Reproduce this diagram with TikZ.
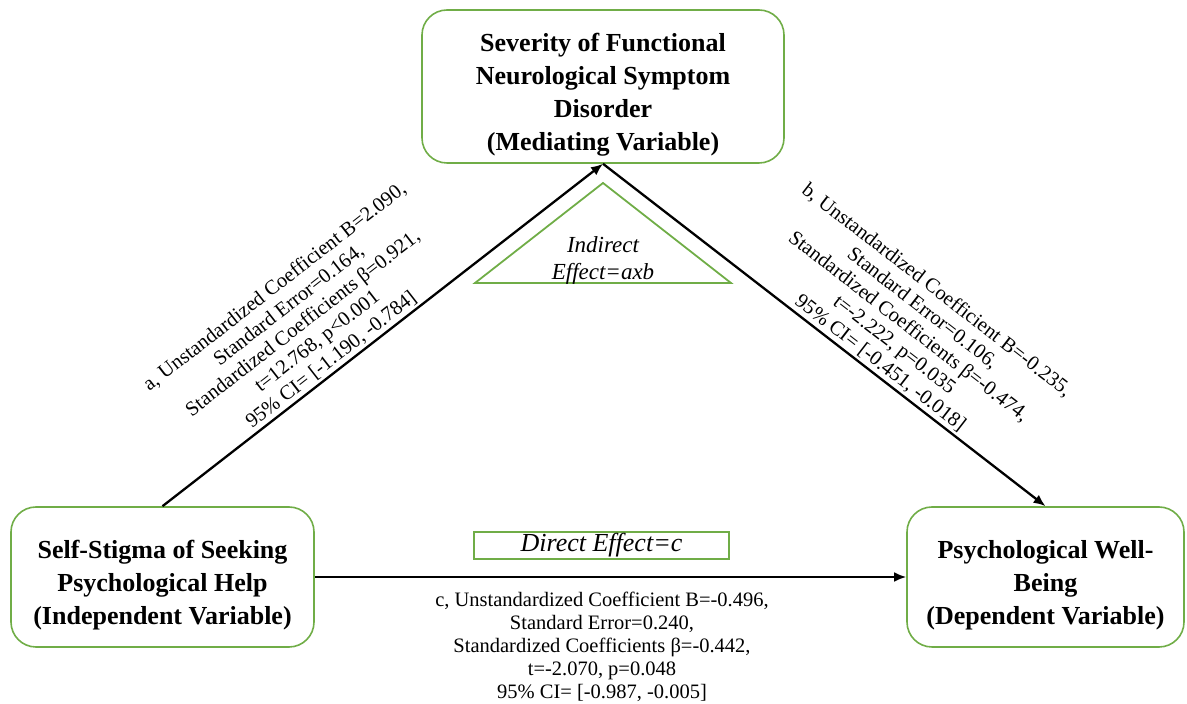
\documentclass[tikz,border=0pt]{standalone}
\usepackage{fontspec}
\setmainfont{Liberation Serif}
\usetikzlibrary{arrows.meta}
\begin{document}
\begin{tikzpicture}[x=1pt,y=1pt]
    \definecolor{boxgreen}{RGB}{112,173,71};
\tikzstyle{var}=[draw=boxgreen,line width=1.6pt,rounded corners=25pt,inner sep=0pt]
\tikzstyle{vartext}=[align=center,font=\fontsize{26}{33}\selectfont\bfseries,inner sep=0pt]
\tikzstyle{arr}=[line width=2.3pt,-{Latex[length=12pt,width=10pt]}]
\tikzstyle{lab}=[align=center,font=\fontsize{20.5}{23}\selectfont,inner sep=2pt]
\useasboundingbox (0,0) rectangle (1187,704);
% variables
\node [var,minimum width=362pt,minimum height=153pt] (med) at (603,617.5) {};
\node [vartext,yshift=-8pt] (medtext) at (med)
    {Severity of Functional\\Neurological Symptom\\Disorder\\(Mediating Variable)};
\node [var,minimum width=303pt,minimum height=140pt] (ind) at (162.5,127) {};
\node [vartext,yshift=-8pt] (indtext) at (ind)
    {Self-Stigma of Seeking\\Psychological Help\\(Independent Variable)};
\node [var,minimum width=277pt,minimum height=140pt] (dep) at (1045.5,127) {};
\node [vartext,yshift=-8pt] (deptext) at (dep)
    {Psychological Well-\\Being\\(Dependent Variable)};
% effects
\draw [boxgreen,line width=1.8pt] (603,521) -- (731,421) -- (475,421) -- cycle;
\node [align=center,font=\fontsize{23}{27}\selectfont\itshape] (indirect) at (603,444)
    {Indirect\\Effect=axb};
\node [draw=boxgreen,line width=1.6pt,minimum width=255pt,minimum height=27pt,inner sep=0pt,
    font=\fontsize{26}{30}\selectfont\itshape] (direct) at (601.5,158.5) {Direct Effect=c};
% paths
\draw [arr] (ind.north) -- (med.south)
    node [lab,pos=0.4,sloped,above] (pa) {a, Unstandardized Coefficient B=2.090,\\Standard Error=0.164,\\Standardized Coefficients β=0.921,\\t=12.768, p<0.001\\95\% CI= [-1.190, -0.784]};
\draw [arr] (med.south) -- (dep.north)
    node [lab,pos=0.61,sloped,above] (pb) {b, Unstandardized Coefficient B=-0.235,\\Standard Error=0.106,\\Standardized Coefficients β=-0.474,\\t=-2.222, p=0.035\\95\% CI= [-0.451, -0.018]};
\draw [arr] (ind.east) -- (dep.west);
\node [lab,anchor=north] (pc) at (602,114)
    {c, Unstandardized Coefficient B=-0.496,\\Standard Error=0.240,\\Standardized Coefficients β=-0.442,\\t=-2.070, p=0.048\\95\% CI= [-0.987, -0.005]};
\end{tikzpicture}
\end{document}
